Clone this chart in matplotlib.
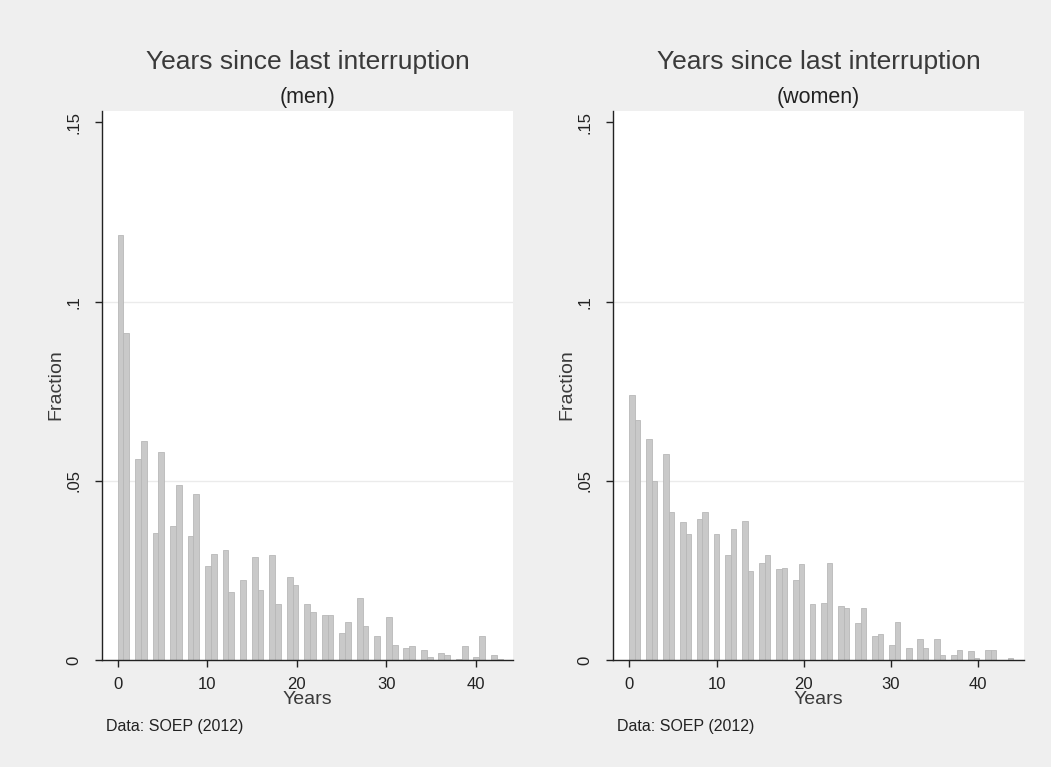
import numpy as np
import matplotlib
matplotlib.use('Agg')
import matplotlib.pyplot as plt

plt.rcParams['font.family'] = ['Liberation Sans', 'DejaVu Sans']

# fraction of people by years since last interruption
years_men = np.arange(0, 44)
frac_men = [0.1187, 0.0912, 0.0561, 0.0610, 0.0355, 0.0580, 0.0375, 0.0487, 0.0345, 0.0463,
            0.0262, 0.0297, 0.0306, 0.0189, 0.0223, 0.0287, 0.0194, 0.0292, 0.0155, 0.0233,
            0.0209, 0.0155, 0.0135, 0.0126, 0.0126, 0.0076, 0.0106, 0.0174, 0.0096, 0.0068,
            0.0121, 0.0043, 0.0033, 0.0039, 0.0029, 0.0008, 0.0020, 0.0015, 0.0004, 0.0038,
            0.0008, 0.0068, 0.0015, 0.0004]

years_women = np.arange(0, 45)
frac_women = [0.0739, 0.0671, 0.0618, 0.0500, 0.0574, 0.0413, 0.0384, 0.0351, 0.0394, 0.0413,
              0.0351, 0.0292, 0.0365, 0.0389, 0.0249, 0.0272, 0.0292, 0.0253, 0.0257, 0.0224,
              0.0268, 0.0155, 0.0160, 0.0272, 0.0150, 0.0145, 0.0102, 0.0145, 0.0067, 0.0072,
              0.0043, 0.0107, 0.0034, 0.0058, 0.0034, 0.0058, 0.0014, 0.0014, 0.0029, 0.0024,
              0.0005, 0.0029, 0.0029, 0.0000, 0.0005]

# histogram bins (stata style, bins narrower than one year)
bins_men = np.linspace(0, 43, 67)
bins_women = np.linspace(-0.03, 44, 69)

x_ticks = [0, 10, 20, 30, 40]
y_ticks = [0, 0.05, 0.1, 0.15]
y_ticklabels = ['0', '.05', '.1', '.15']

W, H = 1051, 767
bg = '#efefef'
txt = '#3a3a3a'

fig = plt.figure(figsize=(W / 100, H / 100), dpi=100, facecolor=bg)

panels = [
    (102, years_men, frac_men, bins_men, '(men)', (-1.75, 44.17)),
    (613, years_women, frac_women, bins_women, '(women)', (-1.87, 45.24)),
]

for left, yrs, fr, bins, sub, xl in panels:
    ax = fig.add_axes([left / W, (H - 660) / H, 411 / W, 549 / H])
    ax.set_facecolor('white')
    ax.hist(yrs, bins=bins, weights=fr, color='#c9c9c9', edgecolor='#b8b8b8', linewidth=0.6, zorder=2)
    for g in [0.05, 0.1]:
        ax.axhline(g, color='#ebebeb', linewidth=1, zorder=1)
    ax.set_xlim(*xl)
    ax.set_ylim(0, 0.1532)
    ax.set_xticks(x_ticks)
    ax.set_yticks(y_ticks)
    ax.set_yticklabels(y_ticklabels, rotation=90, va='center')
    ax.tick_params(axis='both', direction='out', length=5, width=1, color='#222222',
                   labelsize=12, labelcolor='#222222')
    ax.tick_params(axis='x', pad=7)
    ax.tick_params(axis='y', pad=10)
    for s in ['top', 'right']:
        ax.spines[s].set_visible(False)
    for s in ['left', 'bottom']:
        ax.spines[s].set_color('#222222')
        ax.spines[s].set_linewidth(1)

    cx = (left + 205.5) / W
    fig.text(cx, 1 - 62 / H, 'Years since last interruption', ha='center', va='center',
             fontsize=19, color=txt)
    fig.text(cx, 1 - 97 / H, sub, ha='center', va='center', fontsize=15.5, color='#222222')
    fig.text(cx, 1 - 700 / H, 'Years', ha='center', va='center', fontsize=14, color=txt)
    fig.text((left - 46) / W, 1 - 385 / H, 'Fraction', ha='center', va='center',
             rotation=90, fontsize=14, color=txt)
    fig.text((left + 4) / W, 1 - 726 / H, 'Data: SOEP (2012)', ha='left', va='center',
             fontsize=11.5, color='#222222')

fig.savefig('out.png', dpi=100, facecolor=bg)
